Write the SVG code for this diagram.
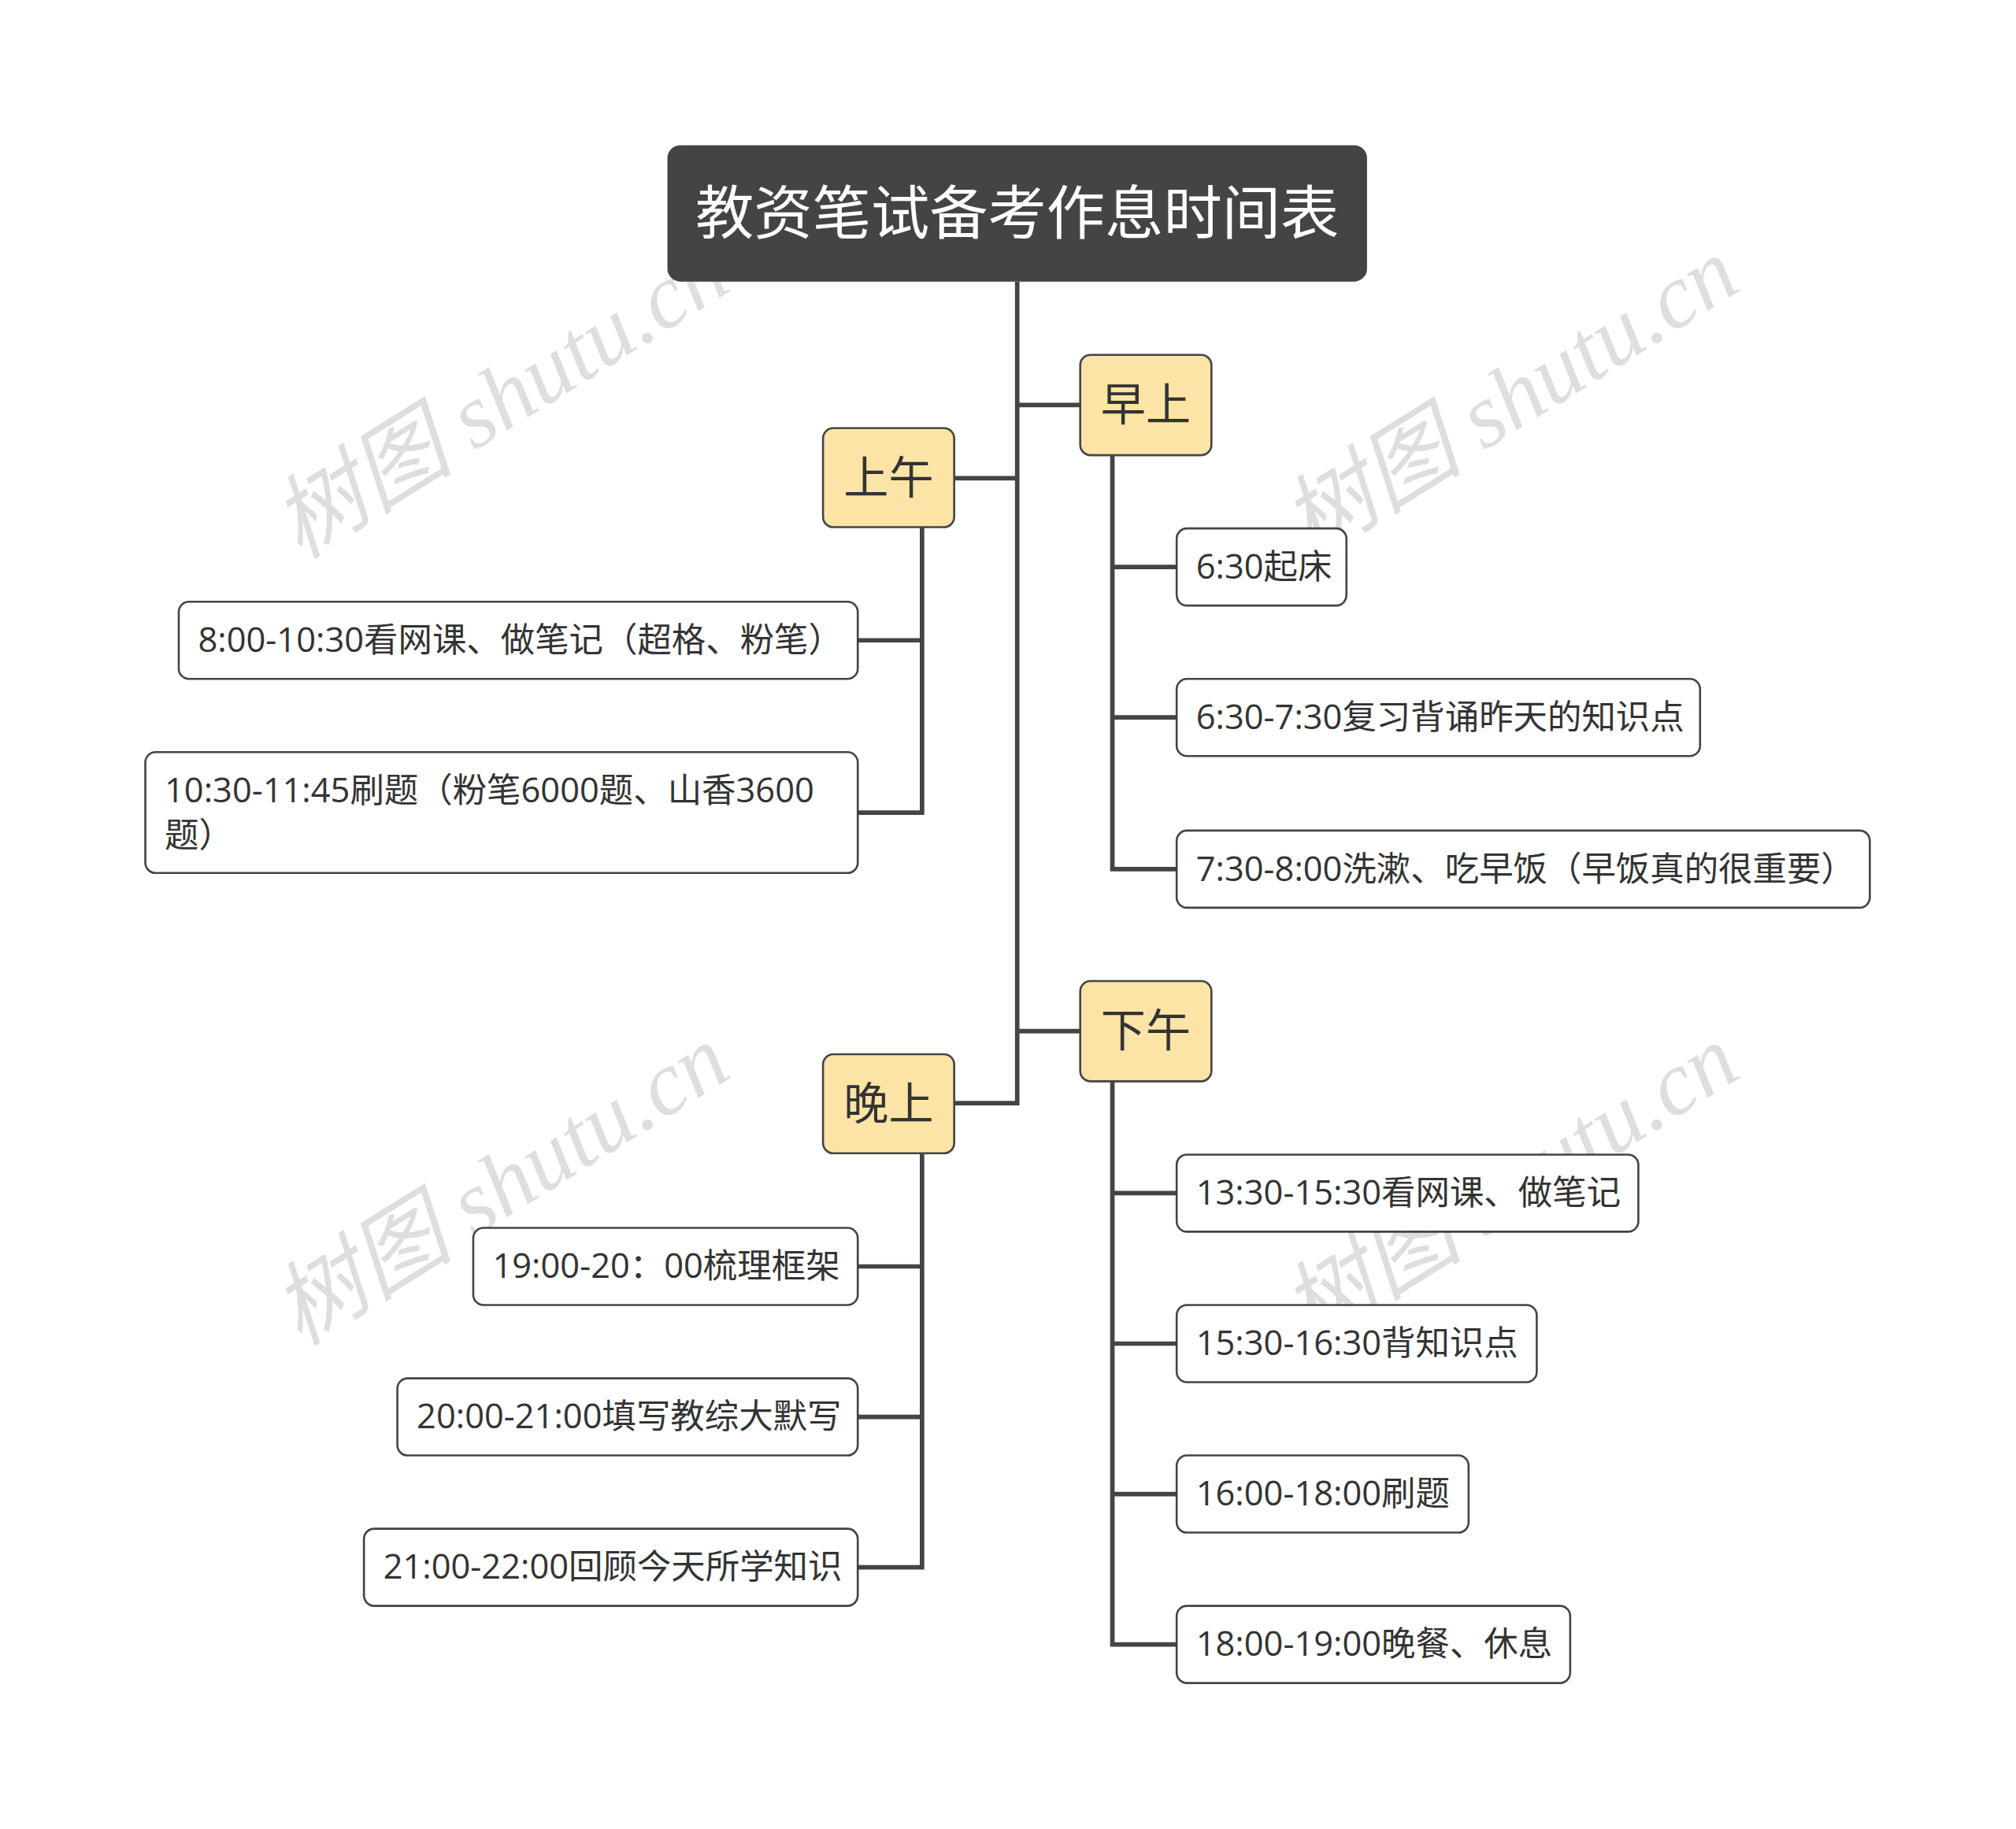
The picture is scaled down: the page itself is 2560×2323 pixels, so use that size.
<svg xmlns="http://www.w3.org/2000/svg" width="2560" height="2323" viewBox="0 0 2560 2323">
<style>
.t{font-family:"Open Sans","Noto Sans CJK SC",sans-serif;fill:#333}
.s{font-size:26.6px}
.c{fill:#fff;stroke:#444;stroke-width:1.6}
.k{fill:#FCE4A6;stroke:#444;stroke-width:1.6}
.ln{fill:none;stroke:#444;stroke-width:3.5}
.wm{font-family:"Liberation Serif","Noto Sans CJK SC",serif;font-style:italic;font-size:71px;fill:#000;fill-opacity:0.13}
</style>
<rect width="2560" height="2323" fill="#fff"/>
<g transform="scale(1.633)">
<g id="watermarks">
<text class="wm" transform="translate(402,330) rotate(-32)" text-anchor="middle">树图 shutu.cn</text>
<text class="wm" transform="translate(1187,330) rotate(-32)" text-anchor="middle">树图 shutu.cn</text>
<text class="wm" transform="translate(402,942) rotate(-32)" text-anchor="middle">树图 shutu.cn</text>
<text class="wm" transform="translate(1187,942) rotate(-32)" text-anchor="middle">树图 shutu.cn</text>
</g>
<g id="connectors">
<path class="ln" d="M791,219V858H742M791,315H840M791,372H742M791,802H840"/>
<path class="ln" d="M865,354V676H915M865,441H915M865,558H915"/>
<path class="ln" d="M717,410V632H667M717,498H667"/>
<path class="ln" d="M865,841V1279H915M865,928H915M865,1045H915M865,1162H915"/>
<path class="ln" d="M717,897V1219H667M717,985H667M717,1102H667"/>
</g>
<g id="root"><rect x="519" y="113" width="544" height="106" rx="10" fill="#444"/>
<text class="t" x="791" y="182" font-size="45.5" text-anchor="middle" style="fill:#fff">教资笔试备考作息时间表</text></g>
<g id="zaoshang"><rect class="k" x="840" y="276" width="102" height="78" rx="8"/><text class="t" x="891" y="327" font-size="35" text-anchor="middle">早上</text></g>
<g id="shangwu"><rect class="k" x="640" y="333" width="102" height="77" rx="8"/><text class="t" x="691" y="384" font-size="35" text-anchor="middle">上午</text></g>
<g id="xiawu"><rect class="k" x="840" y="763" width="102" height="78" rx="8"/><text class="t" x="891" y="814" font-size="35" text-anchor="middle">下午</text></g>
<g id="wanshang"><rect class="k" x="640" y="820" width="102" height="77" rx="8"/><text class="t" x="691" y="871" font-size="35" text-anchor="middle">晚上</text></g>
<g id="n1"><rect class="c" x="915" y="411" width="132" height="60" rx="8"/><text class="t s" x="930" y="450">6:30起床</text></g>
<g id="n2"><rect class="c" x="915" y="528" width="407" height="60" rx="8"/><text class="t s" x="930" y="567">6:30-7:30复习背诵昨天的知识点</text></g>
<g id="n3"><rect class="c" x="915" y="646" width="539" height="60" rx="8"/><text class="t s" x="930" y="685">7:30-8:00洗漱、吃早饭（早饭真的很重要）</text></g>
<g id="n4"><rect class="c" x="139" y="468" width="528" height="60" rx="8"/><text class="t s" x="154" y="507">8:00-10:30看网课、做笔记（超格、粉笔）</text></g>
<g id="n5"><rect class="c" x="113" y="585" width="554" height="94" rx="8"/><text class="t s" x="128" y="624">10:30-11:45刷题（粉笔6000题、山香3600</text><text class="t s" x="128" y="659">题）</text></g>
<g id="n6"><rect class="c" x="915" y="898" width="359" height="60" rx="8"/><text class="t s" x="930" y="937">13:30-15:30看网课、做笔记</text></g>
<g id="n7"><rect class="c" x="915" y="1015" width="280" height="60" rx="8"/><text class="t s" x="930" y="1054">15:30-16:30背知识点</text></g>
<g id="n8"><rect class="c" x="915" y="1132" width="227" height="60" rx="8"/><text class="t s" x="930" y="1171">16:00-18:00刷题</text></g>
<g id="n9"><rect class="c" x="915" y="1249" width="306" height="60" rx="8"/><text class="t s" x="930" y="1288">18:00-19:00晚餐、休息</text></g>
<g id="n10"><rect class="c" x="368" y="955" width="299" height="60" rx="8"/><text class="t s" x="383" y="994">19:00-20：00梳理框架</text></g>
<g id="n11"><rect class="c" x="309" y="1072" width="358" height="60" rx="8"/><text class="t s" x="324" y="1111">20:00-21:00填写教综大默写</text></g>
<g id="n12"><rect class="c" x="283" y="1189" width="384" height="60" rx="8"/><text class="t s" x="298" y="1228">21:00-22:00回顾今天所学知识</text></g>
</g>
</svg>
